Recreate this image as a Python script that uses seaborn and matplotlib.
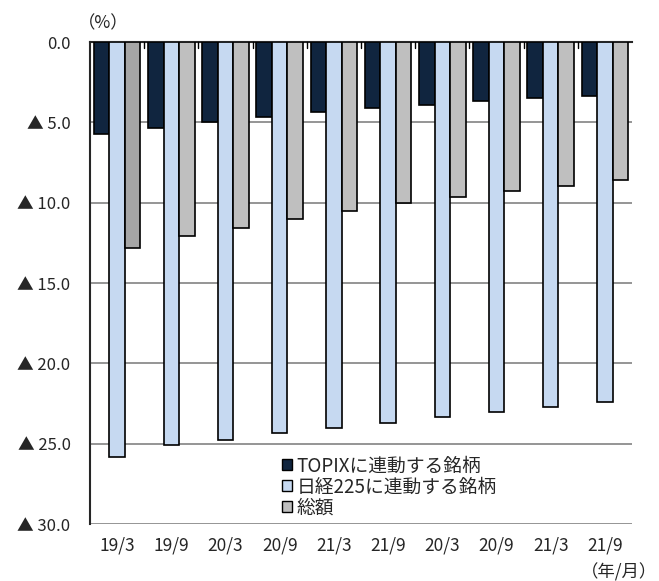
import numpy as np
import pandas as pd
import seaborn as sns
import matplotlib.pyplot as plt
from matplotlib.patches import Patch

periods = ["19/3", "19/9", "20/3", "20/9", "21/3", "21/9", "20/3", "20/9", "21/3", "21/9"]
topix = [5.75, 5.35, 4.95, 4.65, 4.35, 4.1, 3.9, 3.7, 3.5, 3.35]
nikkei = [25.85, 25.1, 24.75, 24.35, 24.0, 23.7, 23.35, 23.05, 22.7, 22.4]
total = [12.85, 12.1, 11.55, 11.0, 10.5, 10.05, 9.65, 9.3, 8.95, 8.6]
series = ["TOPIXに連動する銘柄", "日経225に連動する銘柄", "総額"]
colors = ["#10253f", "#c6d9f1", "#bfbfbf"]

sns.set_style("white")
plt.rcParams['font.family'] = ['Noto Sans CJK JP', 'DejaVu Sans']

rows = []
for i in range(len(periods)):
    for name, vals in zip(series, [topix, nikkei, total]):
        rows.append({"pos": i, "series": name, "value": vals[i]})
df = pd.DataFrame(rows)

fig = plt.figure(figsize=(6.59, 5.81), dpi=100)
ax = fig.add_axes([0.1366, 0.098, 0.8224, 0.8297])

sns.barplot(data=df, x="pos", y="value", hue="series", hue_order=series,
            palette=colors, width=0.86, edgecolor="black", linewidth=1.2,
            saturation=1, legend=False, ax=ax, zorder=3)

# first total bar is drawn a shade darker in the original
for p in ax.patches:
    if abs(p.get_height() - total[0]) < 1e-9:
        p.set_facecolor("#a6a6a6")

ax.set_ylim(30, 0)
ax.set_xlim(-0.5, len(periods) - 0.5)
yt = np.arange(0, 31, 5)
ax.set_yticks(yt)
ax.set_yticklabels(["0.0"] + [f"▲ {v:.1f}" for v in yt[1:]], fontsize=12)
for v in yt[1:]:
    ax.axhline(v, color="#8c8c8c", lw=1.3, zorder=1)

ax.set_xticks(range(len(periods)))
ax.set_xticklabels(periods, fontsize=12.5)
ax.tick_params(axis="x", length=0, pad=9)
ax.tick_params(axis="y", length=4, width=1, direction="out", pad=10)
ax.set_xlabel("")
ax.set_ylabel("")

# small ticks between groups along the top axis line
for b in np.arange(0.5, len(periods) - 0.5, 1):
    ax.plot([b, b], [0, 0.35], color="black", lw=1, zorder=4, clip_on=False)

for s in ["right", "bottom"]:
    ax.spines[s].set_visible(False)
ax.spines["left"].set_linewidth(1.5)
ax.spines["top"].set_linewidth(1.5)

handles = [Patch(facecolor=c, edgecolor="black", linewidth=1) for c in colors]
ax.legend(handles, series, loc="upper left", bbox_to_anchor=(0.34, 0.158),
          frameon=False, fontsize=13.5, handlelength=0.55, handleheight=0.55,
          handletextpad=0.25, labelspacing=0.0, borderaxespad=0)

fig.text(0.118, 0.96, "（%）", fontsize=12.5, ha="left", va="center")
fig.text(0.997, 0.015, "（年/月）", fontsize=12.5, ha="right", va="center")

fig.savefig("out.png", dpi=100)
